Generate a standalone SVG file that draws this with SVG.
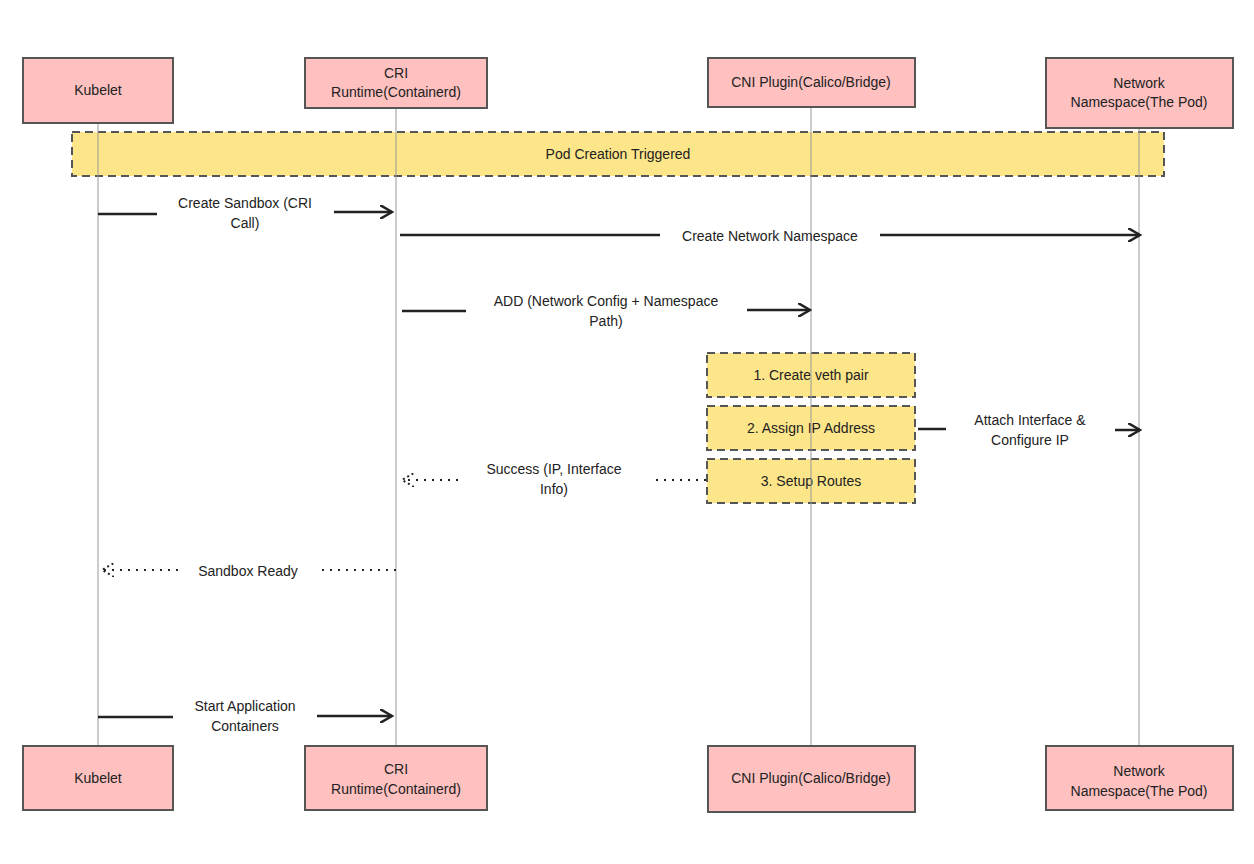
<svg xmlns="http://www.w3.org/2000/svg" width="1254" height="864" viewBox="0 0 1254 864">
<style>
.actor{fill:#ffc0c0;stroke:#555;stroke-width:2}
.note{fill:#fde68a;stroke:#555;stroke-width:2;stroke-dasharray:8 5}
.life{stroke:#999;stroke-width:1}
.msg{stroke:#222;stroke-width:2.5;fill:none}
.dot{stroke:#222;stroke-width:2;fill:none;stroke-dasharray:2 6}
text{font-family:"Liberation Sans",Arial,sans-serif;font-size:14px;fill:#222;text-anchor:middle}
</style>
<defs>
<marker id="ah" markerWidth="14" markerHeight="14" refX="12" refY="7" orient="auto" markerUnits="userSpaceOnUse"><path d="M0,0 L12,7 L0,14" fill="none" stroke="#222" stroke-width="2.5"/></marker>
<marker id="ahd" markerWidth="14" markerHeight="14" refX="12" refY="7" orient="auto" markerUnits="userSpaceOnUse"><path d="M0,0 L12,7 L0,14" fill="none" stroke="#222" stroke-width="2" stroke-dasharray="2 3"/></marker>
</defs>
<rect width="1254" height="864" fill="#fff"/>
<g id="banner"><rect class="note" x="72" y="132" width="1092" height="44"/><text x="618" y="159">Pod Creation Triggered</text></g>
<g id="note1"><rect class="note" x="707" y="353" width="208" height="44"/><text x="811" y="380">1. Create veth pair</text></g>
<g id="note2"><rect class="note" x="707" y="406" width="208" height="44"/><text x="811" y="433">2. Assign IP Address</text></g>
<g id="note3"><rect class="note" x="707" y="459" width="208" height="44"/><text x="811" y="486">3. Setup Routes</text></g>
<g id="lifelines">
<line class="life" x1="98" y1="123" x2="98" y2="746"/>
<line class="life" x1="396" y1="108" x2="396" y2="746"/>
<line class="life" x1="811" y1="107" x2="811" y2="746"/>
<line class="life" x1="1139" y1="128" x2="1139" y2="746"/>
</g>
<g id="connectors">
<line class="msg" x1="98" y1="214" x2="157" y2="214"/><line class="msg" x1="334" y1="212" x2="392" y2="212" marker-end="url(#ah)"/>
<text x="245" y="208">Create Sandbox (CRI</text><text x="245" y="228">Call)</text>
<line class="msg" x1="400" y1="235" x2="660" y2="235"/><line class="msg" x1="880" y1="235" x2="1140" y2="235" marker-end="url(#ah)"/>
<text x="770" y="241">Create Network Namespace</text>
<line class="msg" x1="402" y1="311" x2="466" y2="311"/><line class="msg" x1="747" y1="310" x2="810" y2="310" marker-end="url(#ah)"/>
<text x="606" y="306">ADD (Network Config + Namespace</text><text x="606" y="326">Path)</text>
<line class="msg" x1="918" y1="429" x2="946" y2="429"/><line class="msg" x1="1115" y1="430" x2="1140" y2="430" marker-end="url(#ah)"/>
<text x="1030" y="425">Attach Interface &amp;</text><text x="1030" y="445">Configure IP</text>
<line class="dot" x1="706" y1="480" x2="650" y2="480"/><line class="dot" x1="458" y1="480" x2="402" y2="480" marker-end="url(#ahd)"/>
<text x="554" y="474">Success (IP, Interface</text><text x="554" y="494">Info)</text>
<line class="dot" x1="396" y1="570" x2="318" y2="570"/><line class="dot" x1="178" y1="570" x2="102" y2="570" marker-end="url(#ahd)"/>
<text x="248" y="576">Sandbox Ready</text>
<line class="msg" x1="98" y1="717" x2="173" y2="717"/><line class="msg" x1="317" y1="716" x2="392" y2="716" marker-end="url(#ah)"/>
<text x="245" y="711">Start Application</text><text x="245" y="731">Containers</text>
</g>
<g id="kubelet-top"><rect class="actor" x="23" y="58" width="150" height="65"/><text x="98" y="95">Kubelet</text></g>
<g id="cri-top"><rect class="actor" x="305" y="58" width="182" height="50"/><text x="396" y="78">CRI</text><text x="396" y="97">Runtime(Containerd)</text></g>
<g id="cni-top"><rect class="actor" x="708" y="58" width="207" height="49"/><text x="811" y="87">CNI Plugin(Calico/Bridge)</text></g>
<g id="ns-top"><rect class="actor" x="1046" y="58" width="187" height="70"/><text x="1139" y="88">Network</text><text x="1139" y="107">Namespace(The Pod)</text></g>
<g id="kubelet-bot"><rect class="actor" x="23" y="746" width="150" height="64"/><text x="98" y="783">Kubelet</text></g>
<g id="cri-bot"><rect class="actor" x="305" y="746" width="182" height="64"/><text x="396" y="774">CRI</text><text x="396" y="794">Runtime(Containerd)</text></g>
<g id="cni-bot"><rect class="actor" x="708" y="746" width="207" height="66"/><text x="811" y="783">CNI Plugin(Calico/Bridge)</text></g>
<g id="ns-bot"><rect class="actor" x="1046" y="746" width="187" height="64"/><text x="1139" y="776">Network</text><text x="1139" y="796">Namespace(The Pod)</text></g>
</svg>
